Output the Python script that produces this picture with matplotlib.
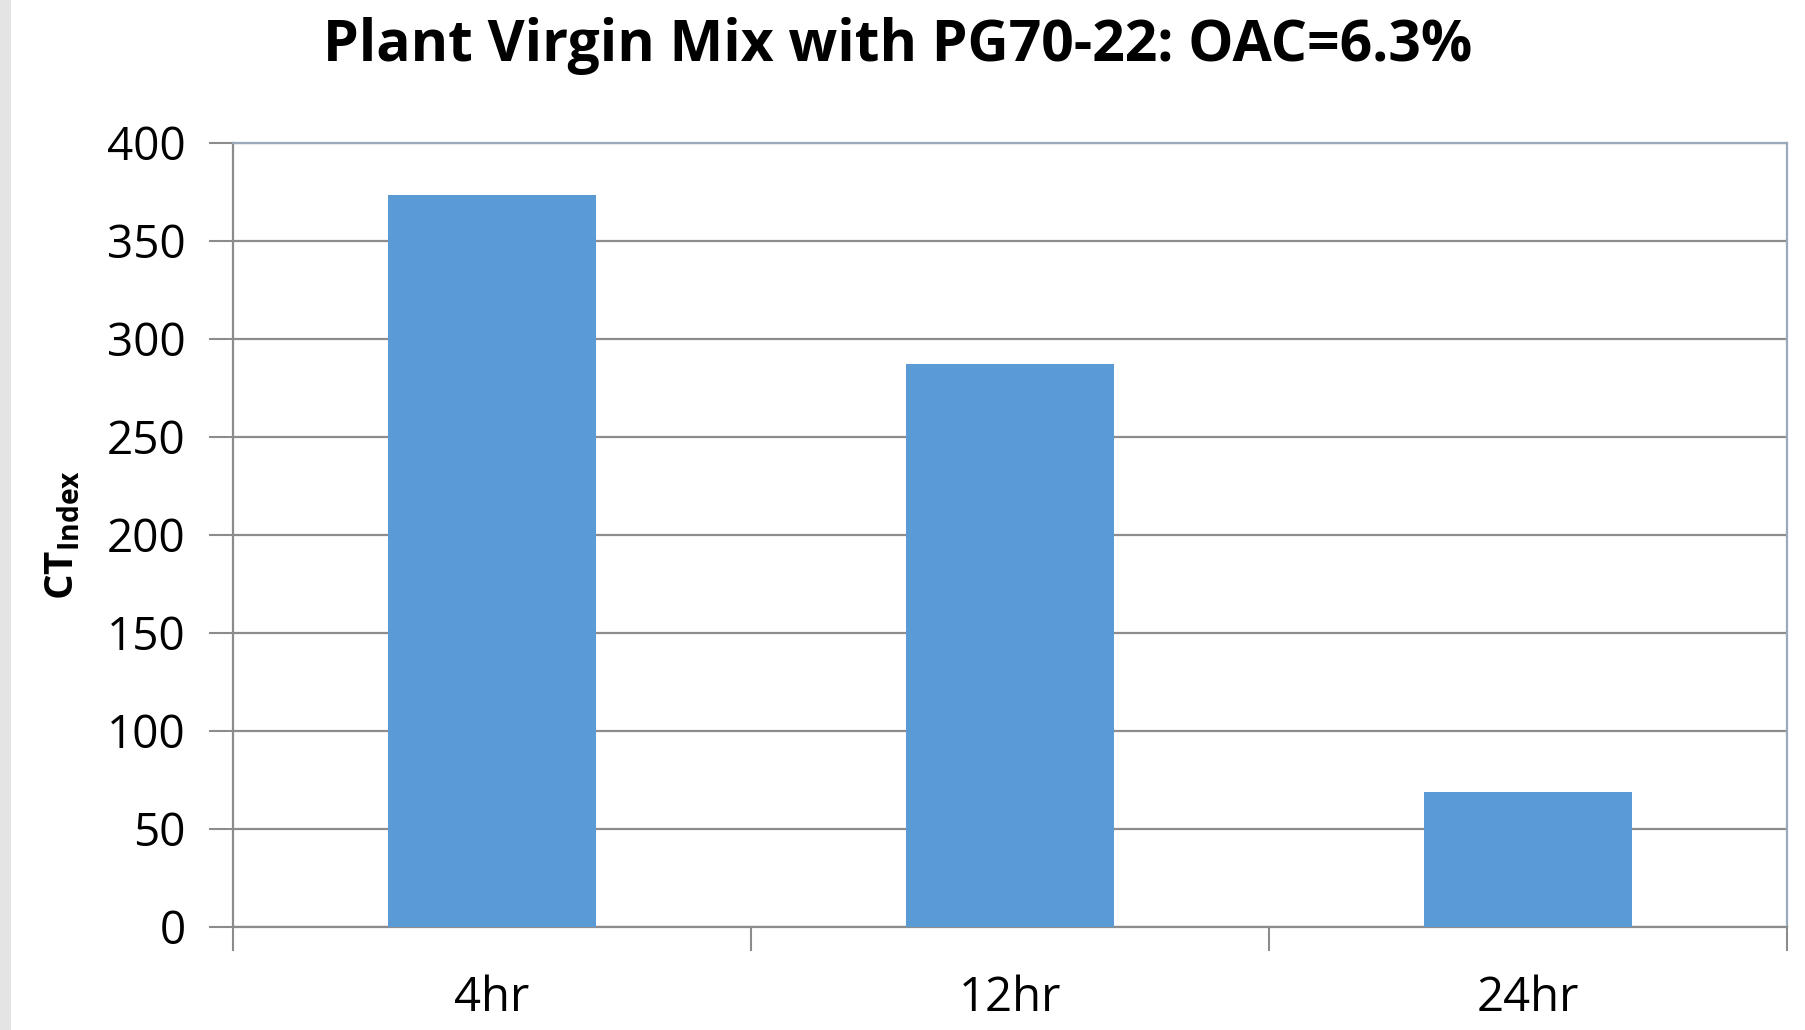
import matplotlib
matplotlib.use("Agg")
import matplotlib.pyplot as plt
from matplotlib.patches import Rectangle
import numpy as np

plt.rcParams['font.family'] = ['Open Sans', 'DejaVu Sans']
plt.rcParams['mathtext.fontset'] = 'custom'
plt.rcParams['mathtext.rm'] = 'Open Sans'
plt.rcParams['mathtext.bf'] = 'Open Sans:bold'

categories = ["4hr", "12hr", "24hr"]
ct_index = [373.5, 287, 69]
yticks = [0, 50, 100, 150, 200, 250, 300, 350, 400]

fig = plt.figure(figsize=(18.06, 10.30), dpi=100)
ax = fig.add_axes([0.129, 0.1, 0.8605, 0.7612])

# light gray strip down the left edge
fig.patches.append(Rectangle((0, 0), 0.0062, 1, transform=fig.transFigure,
                             facecolor="#e4e4e4", edgecolor="none", zorder=0))

x = np.arange(len(categories))
ax.bar(x, ct_index, width=0.4, color="#5b9bd5", zorder=3)

ax.set_xlim(-0.5, len(categories) - 0.5)
ax.set_ylim(0, 400)
ax.set_yticks(yticks)
ax.yaxis.grid(True, color="#8c8c8c", linewidth=1.6, zorder=1)
ax.set_axisbelow(True)

# category labels centered, tick marks at category boundaries
ax.set_xticks(x)
ax.set_xticklabels(categories)
ax.set_xticks(np.arange(-0.5, len(categories)), minor=True)
ax.tick_params(axis="x", which="major", length=0, pad=34, labelsize=34)
ax.tick_params(axis="x", which="minor", length=17, width=1.5, color="#8c8c8c")
ax.tick_params(axis="y", length=17, width=1.5, color="#8c8c8c", pad=17, labelsize=33)

for side in ["left", "bottom"]:
    ax.spines[side].set_color("#8c8c8c")
    ax.spines[side].set_linewidth(1.6)
for side in ["top", "right"]:
    ax.spines[side].set_color("#9aaabb")
    ax.spines[side].set_linewidth(1.6)

ax.set_ylabel(r"CT$_{\mathbf{Index}}$", fontsize=29, fontweight="bold", labelpad=18)
fig.text(0.497, 0.955, "Plant Virgin Mix with PG70-22: OAC=6.3%", ha="center",
         va="center", fontsize=41, fontweight="bold")

fig.savefig("out.png", dpi=100)
